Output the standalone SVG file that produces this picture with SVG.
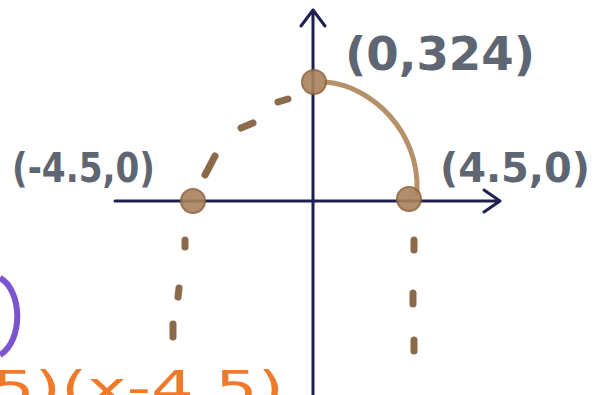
<svg xmlns="http://www.w3.org/2000/svg" width="596" height="395" viewBox="0 0 596 395">
<style>
.axis{stroke:#1f2050;stroke-width:3;fill:none;stroke-linecap:round;stroke-linejoin:round}
.dash{stroke:#8a6a4a;stroke-width:7;stroke-linecap:round;fill:none}
.dot{fill:#a8825c;stroke:#8f6440;stroke-width:2;opacity:0.9}
.lbl{font-family:"DejaVu Sans",sans-serif;font-weight:bold;fill:#5d6672}
</style>
<rect width="596" height="395" fill="#ffffff"/>
<g id="connectors">
<path class="axis" d="M313 395 V10 M301 26 L313 10 L325 26"/>
<path class="axis" d="M115 201 H500 M484 190 L500 201 L484 212"/>
<path d="M326 82 C372 86 420 132 417 192" stroke="#b5916a" stroke-width="5" fill="none" stroke-linecap="round"/>
<path class="dash" d="M215 156 L205 175 M241 128 L253 123 M278 102 L288 99"/>
<path class="dash" d="M185 240 L185 247 M179 288 L178 297 M173 324 L173 337"/>
<path class="dash" d="M414 240 L414 250 M413 293 L413 304 M414 340 L414 351"/>
<path d="M0 278 C22 290 24 340 0 355" stroke="#7b55d0" stroke-width="6" fill="none"/>
</g>
<g id="p_left"><circle class="dot" cx="193" cy="201" r="12"/></g>
<g id="p_top"><circle class="dot" cx="314" cy="82" r="12"/></g>
<g id="p_right"><circle class="dot" cx="409" cy="199" r="12"/></g>
<g id="label_top"><text class="lbl" x="345" y="70" font-size="46" textLength="190" lengthAdjust="spacingAndGlyphs">(0,324)</text></g>
<g id="label_left"><text class="lbl" x="12" y="182" font-size="40" textLength="143" lengthAdjust="spacingAndGlyphs">(-4.5,0)</text></g>
<g id="label_right"><text class="lbl" x="440" y="182" font-size="40" textLength="150" lengthAdjust="spacingAndGlyphs">(4.5,0)</text></g>
<g id="equation"><text x="-8" y="404" font-family="DejaVu Sans,sans-serif" font-size="46" fill="#f07a2a" textLength="292" lengthAdjust="spacingAndGlyphs">5)(x-4.5)</text></g>
</svg>
